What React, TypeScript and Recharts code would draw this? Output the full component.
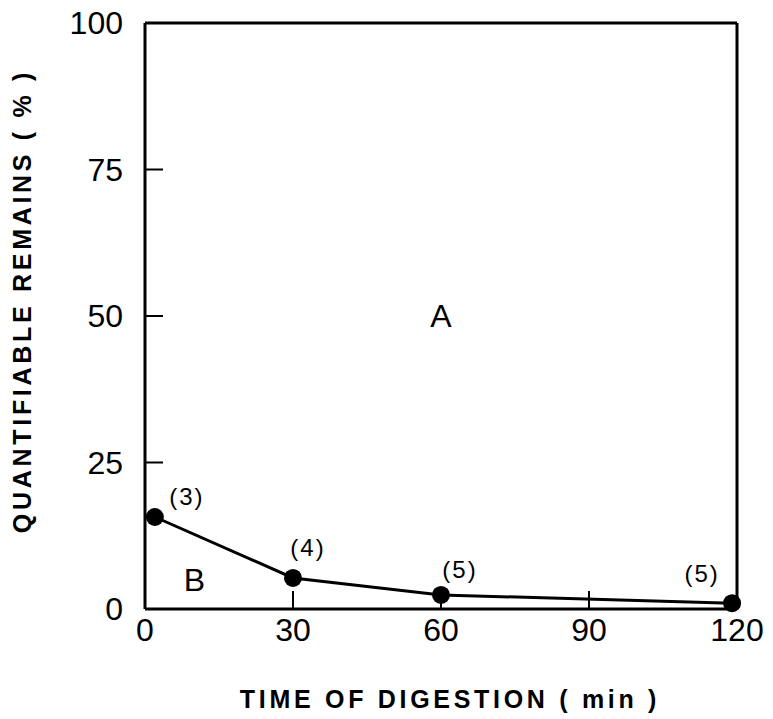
import { LineChart, Line, XAxis, YAxis, ReferenceDot, ReferenceLine, LabelList } from "recharts";

const TIME_MIN = [2, 30, 60, 119];
const REMAINS_PCT = [15.7, 5.3, 2.4, 1.0];
const N_ANIMALS = ["(3)", "(4)", "(5)", "(5)"];
const X_TICKS = [0, 30, 60, 90, 120];
const Y_TICKS = [0, 25, 50, 75, 100];
const REGION_NAMES = ["A", "B"];
const REGION_X = [60, 10];
const REGION_Y = [50, 5];

// where each "(n)" sits relative to its point, px
const N_OFFSETS = [[32, -20], [15, -30], [19, -25], [-30, -30]];

const data = TIME_MIN.map((t, i) => ({ t, pct: REMAINS_PCT[i], n: N_ANIMALS[i] }));

const FONT = '"Liberation Sans", Arial, sans-serif';
const INK = "#000";

const tickStyle = { fontSize: 32, fill: INK, fontFamily: FONT };

const XTitle = ({ viewBox }: any) => (
  <text
    x={viewBox.x + viewBox.width / 2 + 9}
    y={708}
    textAnchor="middle"
    fontFamily={FONT}
    fontWeight="bold"
    fontSize={25}
    letterSpacing={3.7}
    fill={INK}
  >
    TIME OF DIGESTION ( min )
  </text>
);

const YTitle = ({ viewBox }: any) => {
  const cx = viewBox.x + 22;
  const cy = viewBox.y + viewBox.height / 2 - 15;
  return (
    <text
      x={cx}
      y={cy}
      transform={`rotate(-90, ${cx}, ${cy})`}
      textAnchor="middle"
      dominantBaseline="central"
      fontFamily={FONT}
      fontWeight="bold"
      fontSize={25}
      letterSpacing={3.7}
      fill={INK}
    >
      QUANTIFIABLE REMAINS ( % )
    </text>
  );
};

const CountLabel = (props: any) => {
  const { x, y, index, value } = props;
  const [dx, dy] = N_OFFSETS[index] || [20, -25];
  return (
    <text
      x={x + dx}
      y={y + dy}
      textAnchor="middle"
      dominantBaseline="central"
      fontFamily={FONT}
      fontSize={24}
      letterSpacing={2}
      fill={INK}
    >
      {value}
    </text>
  );
};

export default function App() {
  return (
    <div style={{ position: "absolute", left: 0, top: 0, background: "#fff" }}>
      <LineChart width={773} height={719} data={data} margin={{ top: 23, right: 36, bottom: 0, left: 0 }}>
        <XAxis
          dataKey="t"
          type="number"
          domain={[0, 120]}
          ticks={X_TICKS}
          height={110}
          tick={tickStyle}
          tickSize={-18}
          tickMargin={27}
          axisLine={{ stroke: INK, strokeWidth: 3 }}
          tickLine={{ stroke: INK, strokeWidth: 2 }}
          label={<XTitle />}
        />
        <YAxis
          type="number"
          domain={[0, 100]}
          ticks={Y_TICKS}
          width={145}
          tick={tickStyle}
          tickSize={-18}
          tickMargin={40}
          axisLine={{ stroke: INK, strokeWidth: 3 }}
          tickLine={{ stroke: INK, strokeWidth: 2 }}
          label={<YTitle />}
        />
        {/* box: top and right edges */}
        <ReferenceLine y={100} stroke={INK} strokeWidth={3} />
        <ReferenceLine x={120} stroke={INK} strokeWidth={3} />
        {REGION_NAMES.map((name, i) => (
          <ReferenceDot
            key={name}
            x={REGION_X[i]}
            y={REGION_Y[i]}
            r={0}
            fill="none"
            stroke="none"
            label={{ value: name, position: "center", fontSize: 32, fill: INK, fontFamily: FONT }}
          />
        ))}
        <Line
          dataKey="pct"
          stroke={INK}
          strokeWidth={3}
          dot={{ r: 9, fill: INK, stroke: INK, strokeWidth: 0 }}
          isAnimationActive={false}
        >
          <LabelList dataKey="n" content={<CountLabel />} />
        </Line>
      </LineChart>
    </div>
  );
}
